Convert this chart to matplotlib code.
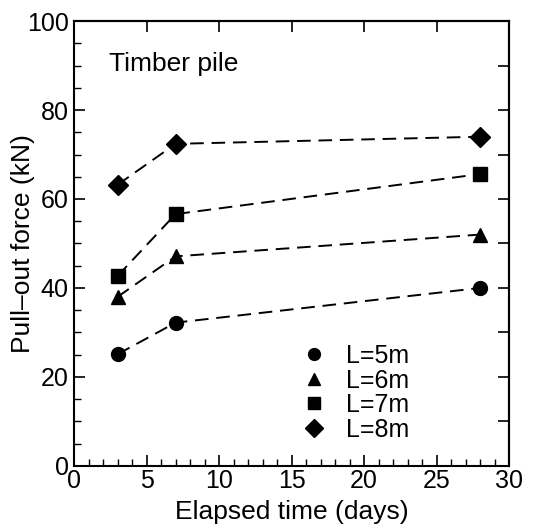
import matplotlib
matplotlib.use("Agg")
import matplotlib.pyplot as plt
from matplotlib.ticker import MultipleLocator

plt.rcParams['font.family'] = ['Liberation Sans', 'DejaVu Sans']

days = [3, 7, 28]
series_labels = ["L=5m", "L=6m", "L=7m", "L=8m"]
force_5m = [25.1, 32.2, 40.0]
force_6m = [38.0, 47.1, 52.0]
force_7m = [42.7, 56.6, 65.6]
force_8m = [63.2, 72.4, 74.0]
markers = ["o", "^", "s", "D"]
marker_sizes = [10, 10, 9.5, 10.5]

fig = plt.figure(figsize=(5.37, 5.27), dpi=100)
ax = fig.add_axes([0.138, 0.116, 0.81, 0.844])

for vals, lab, m, ms in zip([force_5m, force_6m, force_7m, force_8m],
                            series_labels, markers, marker_sizes):
    ax.plot(days, vals, color="black", linestyle=(0, (7, 4)), linewidth=1.4,
            marker=m, markersize=ms, label=lab)

ax.set_xlim(0, 30)
ax.set_ylim(0, 100)
ax.xaxis.set_major_locator(MultipleLocator(5))
ax.xaxis.set_minor_locator(MultipleLocator(1))
ax.yaxis.set_major_locator(MultipleLocator(20))
ax.yaxis.set_minor_locator(MultipleLocator(5))
ax.tick_params(which="major", direction="in", length=8, width=1.2, labelsize=18,
               top=False, right=False)
ax.tick_params(which="minor", direction="in", length=5, width=1.0,
               top=False, right=False)
ax.tick_params(axis="x", pad=2)
ax.tick_params(axis="y", pad=4)

secx = ax.secondary_xaxis("top")
secx.xaxis.set_major_locator(MultipleLocator(5))
secx.tick_params(direction="in", length=8, width=1.2, labeltop=False)
secy = ax.secondary_yaxis("right")
secy.yaxis.set_major_locator(MultipleLocator(10))
secy.tick_params(direction="in", length=8, width=1.2, labelright=False)

for sp in list(ax.spines.values()):
    sp.set_linewidth(1.5)
secx.spines["top"].set_linewidth(1.5)
secy.spines["right"].set_linewidth(1.5)

ax.set_xlabel("Elapsed time (days)", fontsize=19, labelpad=5)
ax.set_ylabel("Pull–out force (kN)", fontsize=19)
ax.yaxis.set_label_coords(-0.09, 0.5)

ax.text(2.4, 90.4, "Timber pile", fontsize=19, va="center", ha="left")

leg = ax.legend(loc="lower left", bbox_to_anchor=(0.505, 0.032), frameon=False,
                fontsize=18, handlelength=0.8, handletextpad=0.9,
                labelspacing=0.02, borderaxespad=0, markerscale=0.85)
for h in leg.legend_handles:
    h.set_linestyle("none")

fig.savefig("out.png", dpi=100)
